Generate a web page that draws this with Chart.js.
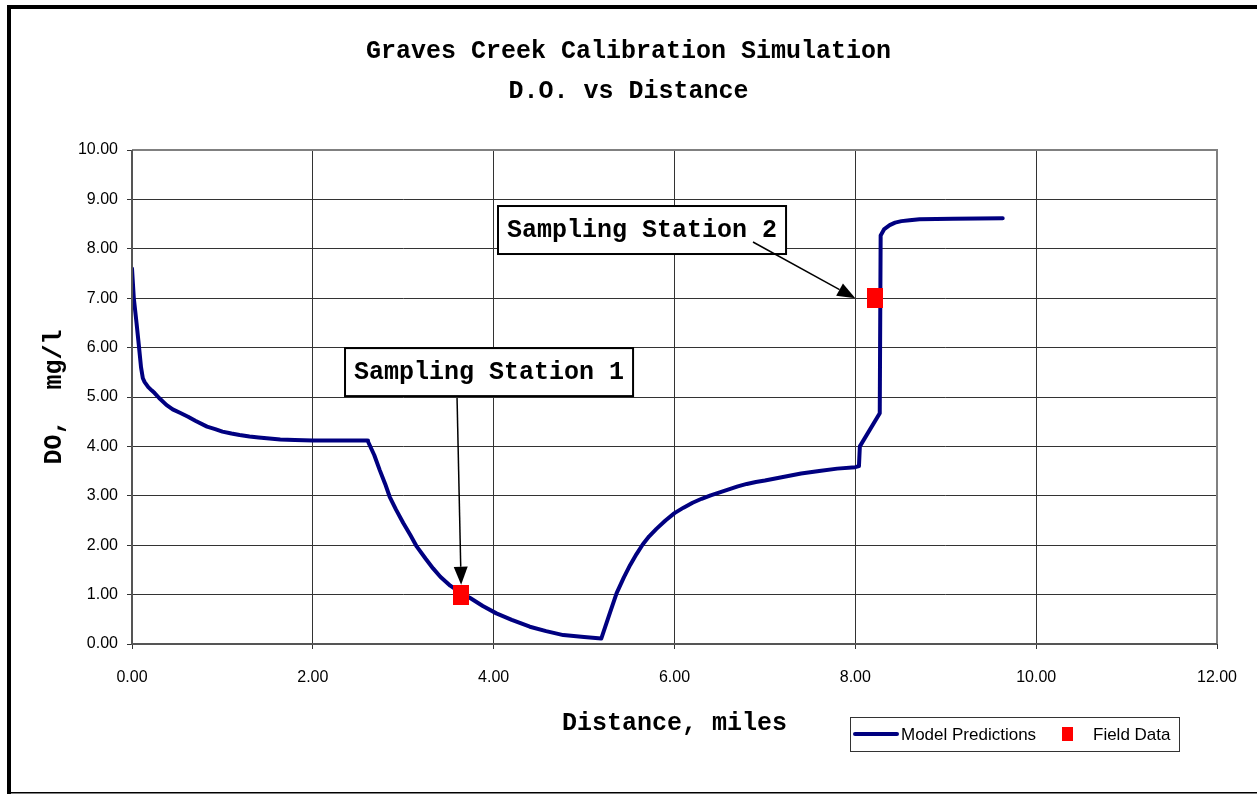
<!DOCTYPE html>
<html><head><meta charset="utf-8">
<script src="https://cdn.jsdelivr.net/npm/chart.js@4.4.1/dist/chart.umd.min.js"></script>
<style>html,body{margin:0;padding:0;background:#fff;overflow:hidden}#wrap{position:relative;width:1257px;height:794px}</style>
</head><body><div id="wrap"><canvas id="c" width="1257" height="794"></canvas></div>
<script>
// ---- data ----
const distanceMiles = [0, 0.02, 0.05, 0.07, 0.10, 0.12, 0.14, 0.18, 0.22, 0.25, 0.30, 0.38, 0.45, 0.53, 0.62, 0.70, 0.83, 0.92, 1.00, 1.10, 1.19, 1.30, 1.40, 1.52, 1.64, 1.80, 2.00, 2.30, 2.60,
  2.61, 2.68, 2.74, 2.80, 2.85, 2.92, 3.00, 3.08, 3.15, 3.25, 3.33, 3.41, 3.52, 3.64, 3.74, 3.88, 4.03, 4.20, 4.40, 4.58, 4.77, 5.00, 5.19,
  5.28, 5.36, 5.44, 5.51, 5.58, 5.65, 5.72, 5.80, 5.90, 6.00, 6.10, 6.20, 6.30, 6.40, 6.50, 6.60, 6.70, 6.80, 6.90, 7.00, 7.20, 7.40, 7.60, 7.80, 8.00, 8.04,
  8.05, 8.27, 8.28, 8.32, 8.38, 8.44, 8.51, 8.60, 8.71, 9.08, 9.63];
const modelDO = [7.60, 7.00, 6.50, 6.15, 5.60, 5.38, 5.30, 5.20, 5.13, 5.08, 4.98, 4.84, 4.75, 4.68, 4.60, 4.52, 4.40, 4.35, 4.30, 4.26, 4.23, 4.20, 4.18, 4.16, 4.14, 4.13, 4.12, 4.12, 4.12,
  4.10, 3.82, 3.52, 3.24, 2.98, 2.72, 2.45, 2.20, 1.97, 1.72, 1.53, 1.36, 1.18, 1.03, 0.93, 0.77, 0.62, 0.49, 0.35, 0.26, 0.18, 0.14, 0.11,
  0.60, 1.03, 1.35, 1.60, 1.82, 2.02, 2.18, 2.33, 2.50, 2.65, 2.76, 2.86, 2.94, 3.01, 3.07, 3.13, 3.19, 3.24, 3.28, 3.31, 3.38, 3.45, 3.50, 3.55, 3.58, 3.60,
  4.00, 4.67, 8.27, 8.40, 8.48, 8.53, 8.56, 8.58, 8.60, 8.61, 8.62];
const fieldDistance = [3.64, 8.22];
const fieldDO = [1.00, 7.00];
const stationNames = ['Sampling Station 1', 'Sampling Station 2'];
const xTickValues = [0, 2, 4, 6, 8, 10, 12];
const yTickValues = [0, 1, 2, 3, 4, 5, 6, 7, 8, 9, 10];
const seriesNames = ['Model Predictions', 'Field Data'];
const titleLines = ['Graves Creek Calibration Simulation', 'D.O. vs Distance'];
const xAxisTitle = 'Distance, miles';
const yAxisTitle = 'DO,  mg/l';

// ---- fonts ----
function hasFont(name){
  const c=document.createElement('canvas').getContext('2d');
  const s='10.00 Model Predictions';
  c.font='40px monospace'; const a=c.measureText(s).width;
  c.font='40px "'+name+'", monospace'; const b=c.measureText(s).width;
  return Math.abs(a-b)>0.5;
}
const narrow = hasFont('Liberation Sans Narrow');
const sansFam = narrow ? '"Liberation Sans Narrow", "Liberation Sans", Arial, sans-serif' : '"Liberation Sans", Arial, sans-serif';
const tickSize = narrow ? 20 : 16;
const legendSize = narrow ? 20 : 17;
const monoFam = '"Liberation Mono", "Courier New", monospace';

// marker image 16x20 red
const mk = document.createElement('canvas'); mk.width=16; mk.height=20;
{const g=mk.getContext('2d'); g.fillStyle='#ff0000'; g.fillRect(0,0,16,20);}

const annotations = [
  {text: stationNames[0], box:{x:2.356, y:5.99}, from:{x:3.595, y:4.98}, tip:{x:3.64, y:1.20}},
  {text: stationNames[1], box:{x:4.048, y:8.866}, from:{x:6.868, y:8.138}, tip:{x:8.00, y:7.00}}
];

const decor = {
  id:'decor',
  afterDatasetsDraw(chart){
    const ctx=chart.ctx, xs=chart.scales.x, ys=chart.scales.y, a=chart.chartArea;
    ctx.save();
    // plot border
    ctx.strokeStyle='#808080'; ctx.lineWidth=2;
    ctx.beginPath(); ctx.moveTo(a.left, a.top); ctx.lineTo(a.right, a.top); ctx.lineTo(a.right, a.bottom); ctx.stroke();
    ctx.strokeStyle='#555'; ctx.beginPath(); ctx.moveTo(a.left, a.top); ctx.lineTo(a.left, a.bottom); ctx.lineTo(a.right, a.bottom); ctx.stroke();
    ctx.font='bold 25px '+monoFam;
    annotations.forEach(an=>{
      const x0=xs.getPixelForValue(an.box.x), y0=ys.getPixelForValue(an.box.y);
      const tw=ctx.measureText(an.text).width, w=tw+18, h=48;
      ctx.fillStyle='#fff'; ctx.fillRect(x0,y0,w,h);
      ctx.strokeStyle='#000'; ctx.lineWidth=2; ctx.strokeRect(x0,y0,w,h);
      ctx.fillStyle='#000'; ctx.textAlign='left'; ctx.textBaseline='middle';
      ctx.fillText(an.text, x0+9, y0+h/2+1);
      const fx=xs.getPixelForValue(an.from.x), fy=ys.getPixelForValue(an.from.y);
      const tx=xs.getPixelForValue(an.tip.x), ty=ys.getPixelForValue(an.tip.y);
      const ang=Math.atan2(ty-fy, tx-fx), L=18, W=7;
      const bx=tx-L*Math.cos(ang), by=ty-L*Math.sin(ang);
      ctx.strokeStyle='#000'; ctx.lineWidth=1.5;
      ctx.beginPath(); ctx.moveTo(fx,fy); ctx.lineTo(bx,by); ctx.stroke();
      ctx.fillStyle='#000'; ctx.beginPath();
      ctx.moveTo(tx,ty);
      ctx.lineTo(bx+W*Math.sin(ang), by-W*Math.cos(ang));
      ctx.lineTo(bx-W*Math.sin(ang), by+W*Math.cos(ang));
      ctx.closePath(); ctx.fill();
    });
    ctx.restore();
  },
  afterDraw(chart){
    const ctx=chart.ctx; ctx.save();
    // outer frame
    ctx.fillStyle='#000';
    ctx.fillRect(7,5,1257,4); ctx.fillRect(7,5,4,789); ctx.fillRect(7,792,1257,1.5);
    // legend
    const lx=850, ly=717, lw=329, lh=34, cy=ly+lh/2;
    ctx.fillStyle='#fff'; ctx.fillRect(lx,ly,lw,lh);
    ctx.strokeStyle='#333'; ctx.lineWidth=1; ctx.strokeRect(lx+0.5,ly+0.5,lw,lh);
    const ds=chart.data.datasets;
    const line=ds.find(d=>d.label===seriesNames[0]), pts=ds.find(d=>d.label===seriesNames[1]);
    ctx.strokeStyle=line.borderColor; ctx.lineWidth=4; ctx.lineCap='round';
    ctx.beginPath(); ctx.moveTo(855,cy); ctx.lineTo(897,cy); ctx.stroke();
    ctx.font=legendSize+'px '+sansFam; ctx.fillStyle='#000'; ctx.textBaseline='middle'; ctx.textAlign='left';
    ctx.fillText(line.label, 901, cy+1);
    ctx.fillStyle=pts.backgroundColor; ctx.fillRect(1062,cy-7,11,14);
    ctx.fillStyle='#000'; ctx.fillText(pts.label, 1093, cy+1);
    ctx.restore();
  }
};

new Chart(document.getElementById('c'), {
  type:'line',
  data:{datasets:[
    {label:seriesNames[1], data:fieldDistance.map((x,i)=>({x, y:fieldDO[i]})), showLine:false,
     pointStyle:mk, pointRadius:10, backgroundColor:'#ff0000', borderColor:'#ff0000', order:0},
    {label:seriesNames[0], data:distanceMiles.map((x,i)=>({x, y:modelDO[i]})), borderColor:'#000080',
     backgroundColor:'#000080', borderWidth:4, pointRadius:0, tension:0, fill:false, order:1,
     borderCapStyle:'round', borderJoinStyle:'round'}
  ]},
  options:{
    responsive:false, animation:false, devicePixelRatio:1,
    layout:{padding:{left:40, right:40, top:0, bottom:0}},
    plugins:{
      legend:{display:false}, tooltip:{enabled:false},
      title:{display:true, text:titleLines, color:'#000',
        font:{family:monoFam, size:25, weight:'bold', lineHeight:1.6}, padding:{top:32, bottom:38}}
    },
    scales:{
      x:{type:'linear', min:0, max:12,
        afterBuildTicks:s=>{s.ticks=xTickValues.map(v=>({value:v}));},
        afterFit:s=>{s.height=150;},
        ticks:{callback:v=>Number(v).toFixed(2), color:'#000', font:{family:sansFam, size:tickSize}, padding:19, maxRotation:0, autoSkip:false},
        grid:{color:'#333', lineWidth:1, tickLength:5, drawTicks:true},
        border:{display:false},
        title:{display:true, text:xAxisTitle, color:'#000', font:{family:monoFam, size:25, weight:'bold', lineHeight:1.2}, padding:{top:0,bottom:55}}
      },
      y:{type:'linear', min:0, max:10,
        afterBuildTicks:s=>{s.ticks=yTickValues.map(v=>({value:v}));},
        afterFit:s=>{s.width=92;},
        ticks:{callback:v=>Number(v).toFixed(2), color:'#000', font:{family:sansFam, size:tickSize}, padding:9, autoSkip:false},
        grid:{color:'#333', lineWidth:1, tickLength:5, drawTicks:true},
        border:{display:false},
        title:{display:true, text:yAxisTitle, color:'#000', font:{family:monoFam, size:25, weight:'bold', lineHeight:1.2}, padding:{top:0,bottom:0}}
      }
    }
  },
  plugins:[decor]
});
</script></body></html>
